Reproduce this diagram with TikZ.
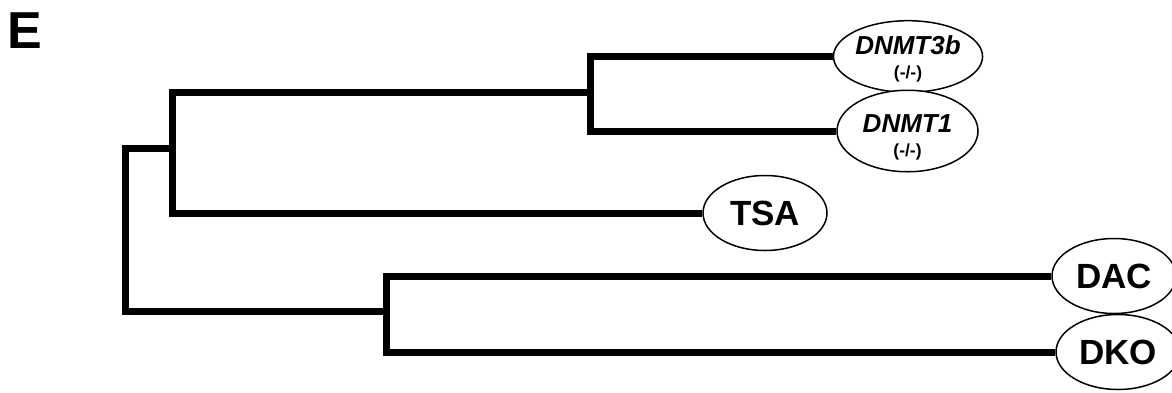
\documentclass[tikz,border=0pt]{standalone}
\usepackage{fontspec}
\setmainfont{Liberation Sans}
\usetikzlibrary{shapes.geometric,backgrounds}
\tikzset{
  branch/.style={line width=7pt, line join=miter, line cap=butt, black},
  leaf/.style={draw=black, line width=1.5pt, fill=white, ellipse, inner sep=0pt, align=center},
  bigleaf/.style={leaf, minimum width=124pt, minimum height=75pt, font=\fontsize{35}{38}\selectfont\bfseries},
  geneleaf/.style={leaf, minimum width=144pt, minimum height=68pt, font=\fontsize{17.5}{24}\selectfont\bfseries},
}
\newcommand{\genename}[2]{\rule{0pt}{#1pt}{\fontsize{26}{24}\selectfont\itshape #2}\\(-/-)}
\begin{document}
\begin{tikzpicture}[x=1pt,y=-1pt]
\useasboundingbox (0,0) rectangle (1172,392);
% panel label
\node[font=\fontsize{52}{56}\selectfont\bfseries, inner sep=0pt] (E) at (25,31) {E};
% leaves
\node[geneleaf] (D3b) at (908,56.5) {\genename{23}{DNMT3b}};
\node[geneleaf, minimum width=141pt, minimum height=71pt] (D1) at (907.5,131) {\genename{30}{DNMT1}};
\node[bigleaf] (TSA) at (765,213) {TSA};
\node[bigleaf] (DAC) at (1114,276) {DAC};
\node[bigleaf] (DKO) at (1118,352) {DKO};
% internal nodes
\coordinate (n3) at (590,92);
\coordinate (n2) at (172,148);
\coordinate (n1) at (125,230);
\coordinate (n4) at (386,311);
% branches
\begin{scope}[on background layer]
\draw[branch] (D3b.west) -| (n3) |- (D1.west);
\draw[branch] (n3) -| (n2) |- (TSA.west);
\draw[branch] (n2) -| (n1) |- (n4);
\draw[branch] (DAC.west) -| (n4) |- (DKO.west);
\end{scope}
\end{tikzpicture}
\end{document}
